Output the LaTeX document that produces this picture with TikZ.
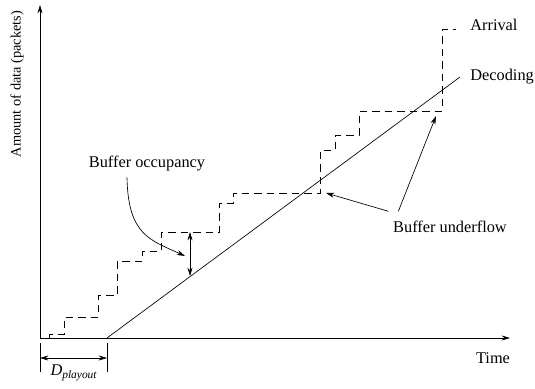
\documentclass[tikz,border=0pt]{standalone}
\usepackage{fontspec}
\setmainfont{Liberation Serif}
\usepackage{amsmath}
\usepackage{tikz}
\usetikzlibrary{arrows.meta}

\begin{document}
\begin{tikzpicture}[x=0.6pt,y=-0.6pt,font=\fontsize{9.8}{11.8}\selectfont,
  arrival/.style={dash pattern=on 4.5pt off 3pt},
  pointer/.style={-{Stealth[length=5pt,width=3pt]}},
  both/.style={{Stealth[length=5pt,width=3pt]}-{Stealth[length=5pt,width=3pt]}}]
\useasboundingbox (0,0) rectangle (535,388);
\coordinate (o) at (40,338);
\coordinate (ytop) at (40,5);
\coordinate (xend) at (510,338);
\coordinate (p) at (107,338);
\coordinate (dend) at (460,77);
\coordinate (occtop) at (190,232);
\coordinate (occbot) at (190,276);
\coordinate (tickla) at (40,343);
\coordinate (ticklb) at (40,372);
\coordinate (tickra) at (107,343);
\coordinate (tickrb) at (107,372);
\coordinate (dla) at (40,358);
\coordinate (dlb) at (107,358);
\coordinate (occtip) at (185,256);
\coordinate (uftipa) at (326,193);
\coordinate (uftipb) at (436,116);
\begin{scope}[semithick]
% draws axes
\draw[pointer] (o) to (ytop);
\draw[pointer] (o) to (xend);
\end{scope}
% labels axes
\node[rotate=90,font=\fontsize{8.6}{10}\selectfont] (ylab) at (17,84) {Amount of data (packets)};
\node (tlab) at (493,358) {Time};
% draws playout delay
\draw (tickla) to (ticklb);
\draw (tickra) to (tickrb);
\draw[both] (dla) to (dlb);
\node (dlab) at (74,373) {\textit{D}$_{\textit{playout}}$};
% draws arrival and decoding curves
\draw[arrival] (49,338) |- (64,334) |- (98,317) |- (117,295) |- (142,261)
  |- (161,251) |- (219,232) |- (233,203) |- (320,193) |- (335,150)
  |- (359,135) |- (442,111) |- (456,29);
\draw (p) to (dend);
\node[anchor=west,inner sep=0pt] (arr) at (470,25) {Arrival};
\node[anchor=west,inner sep=0pt] (dec) at (470,77) {Decoding};
% buffer occupancy
\draw[both] (occtop) to (occbot);
\node (occ) at (147,164) {Buffer occupancy};
\draw[pointer] (occ.south -| 127,0) .. controls (128,235) and (150,240) .. (occtip);
% buffer underflow
\node (uf) at (450,227) {Buffer underflow};
\draw[pointer] (uf.north west) ++(1,-4) coordinate (ufa) (ufa) to (uftipa);
\draw[pointer] (uf.north west) ++(11,-4) coordinate (ufb) (ufb) to (uftipb);
\end{tikzpicture}
\end{document}
